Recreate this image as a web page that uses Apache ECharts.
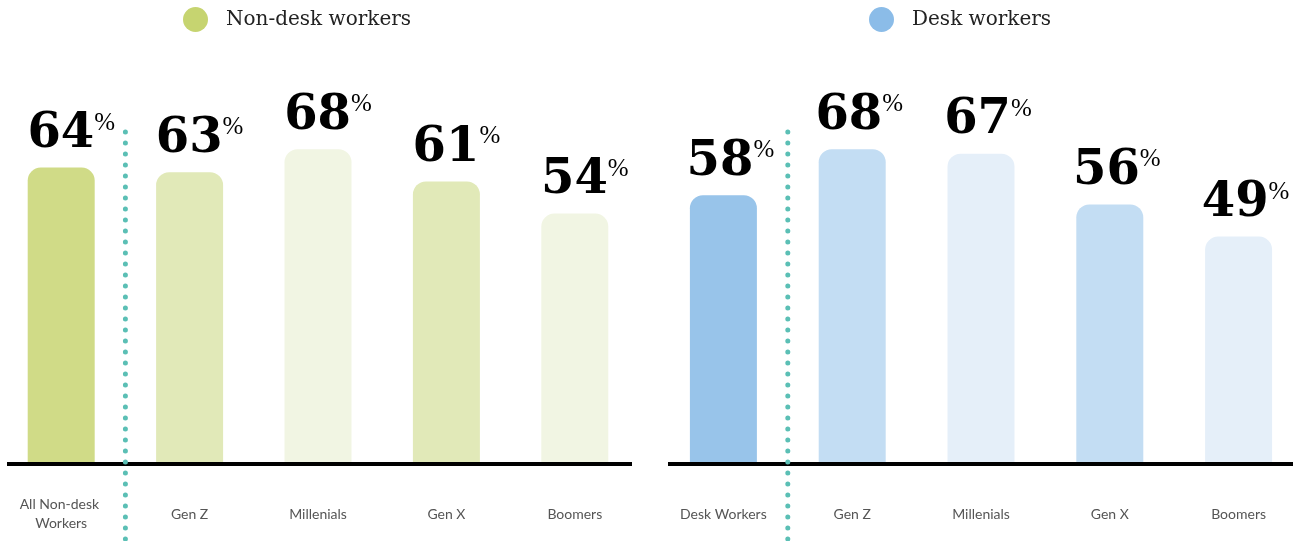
<!DOCTYPE html>
<html>
<head>
<meta charset="utf-8">
<script src="https://cdn.jsdelivr.net/npm/echarts@6/dist/echarts.min.js"></script>
<style>
  html, body { margin: 0; padding: 0; background: #fff; }
  #chart { width: 1293px; height: 541px; }
</style>
</head>
<body>
<div id="chart"></div>
<script>
// data
const nonDeskCategories = ['All Non-desk Workers', 'Gen Z', 'Millenials', 'Gen X', 'Boomers']
const nonDeskValues = [64, 63, 68, 61, 54]
const deskCategories = ['Desk Workers', 'Gen Z', 'Millenials', 'Gen X', 'Boomers']
const deskValues = [58, 68, 67, 56, 49]
const seriesNames = ['Non-desk workers', 'Desk workers']

// styles
const greenShades = ['#d0db87', '#e1e9b8', '#f1f5e3', '#e1e9b8', '#f1f5e3']
const blueShades = ['#98c4ea', '#c3ddf3', '#e5eff9', '#c3ddf3', '#e5eff9']
const legendColors = ['#c6d470', '#8bbce8']
const dotColor = '#5bbfb5'

const grids = [
  { left: -3, width: 642 },
  { left: 659, width: 644 }
]
const gridTop = 2
const gridBottom = 79
const baseY = 541 - gridBottom

function labelStyle(dx) {
  return {
    show: true,
    position: 'top',
    distance: 9,
    offset: [dx, 0],
    formatter: '{n|{c}}{p|%}',
    rich: {
      n: {
        fontFamily: 'DejaVu Serif',
        fontWeight: 'bold',
        fontSize: 48,
        lineHeight: 48,
        color: '#000'
      },
      p: {
        fontFamily: 'Liberation Serif',
        fontSize: 25,
        lineHeight: 26,
        verticalAlign: 'top',
        color: '#000'
      }
    }
  }
}

function xAxisFor(i, cats) {
  return {
    type: 'category',
    gridIndex: i,
    data: cats,
    axisLine: { show: false },
    axisTick: { show: false },
    axisLabel: {
      interval: 0,
      margin: 52,
      verticalAlign: 'middle',
      fontFamily: 'Lato',
      fontSize: 14,
      lineHeight: 19,
      color: '#555',
      width: 96,
      overflow: 'break'
    }
  }
}

function barSeries(i, values, shades, dx) {
  return {
    name: seriesNames[i],
    type: 'bar',
    xAxisIndex: i,
    yAxisIndex: i,
    barWidth: 67,
    itemStyle: { color: legendColors[i] },
    data: values.map((v, k) => ({
      value: v,
      itemStyle: { color: shades[k], borderRadius: [13, 13, 0, 0] }
    })),
    label: labelStyle(dx)
  }
}

function legendFor(i, left) {
  return {
    data: [seriesNames[i]],
    left: left,
    top: 2,
    icon: 'circle',
    itemWidth: 25,
    itemHeight: 25,
    selectedMode: false,
    textStyle: {
      fontFamily: 'DejaVu Serif',
      fontSize: 20,
      color: '#222',
      padding: [0, 0, 0, 13]
    }
  }
}

// base line and dotted divider after first category
const decorations = []
const lineSpans = [[7, 632], [668, 1293]]
lineSpans.forEach(s => {
  decorations.push({
    type: 'rect',
    shape: { x: s[0], y: baseY, width: s[1] - s[0], height: 4 },
    style: { fill: '#000' },
    z: 10
  })
})
grids.forEach(g => {
  const x = g.left + g.width / 5
  decorations.push({
    type: 'line',
    shape: { x1: x, y1: 132, x2: x, y2: 545 },
    style: {
      stroke: dotColor,
      lineWidth: 5,
      lineCap: 'round',
      lineDash: [0.1, 10.9]
    },
    z: 20
  })
})

const chart = echarts.init(document.getElementById('chart'))
chart.setOption({
  animation: false,
  legend: [legendFor(0, 178), legendFor(1, 864)],
  grid: grids.map(g => ({
    left: g.left,
    width: g.width,
    top: gridTop,
    bottom: gridBottom,
    outerBoundsMode: 'none',
    containLabel: false
  })),
  xAxis: [xAxisFor(0, nonDeskCategories), xAxisFor(1, deskCategories)],
  yAxis: [0, 1].map(i => ({
    type: 'value',
    gridIndex: i,
    min: 0,
    max: 100,
    show: false
  })),
  series: [
    barSeries(0, nonDeskValues, greenShades, 10),
    barSeries(1, deskValues, blueShades, 7)
  ],
  graphic: decorations
})
</script>
</body>
</html>
